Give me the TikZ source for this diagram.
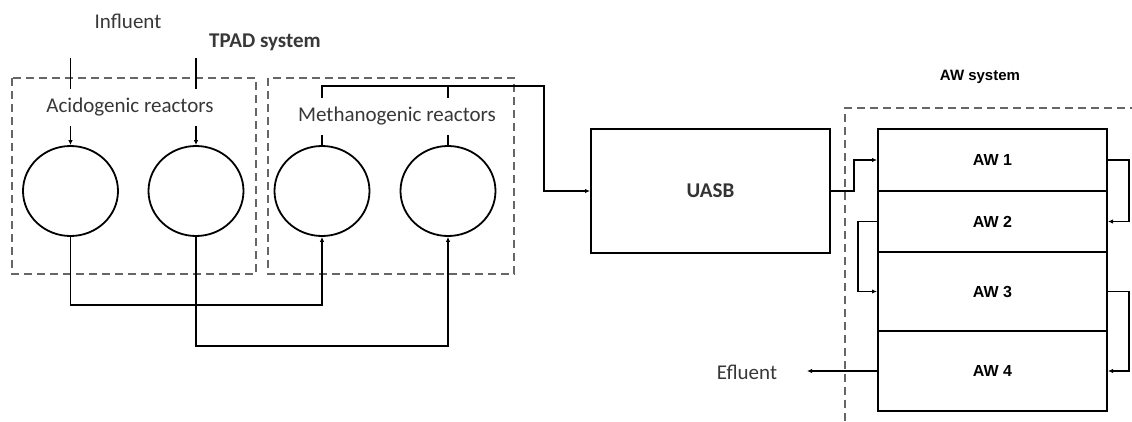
\documentclass[tikz,border=0pt]{standalone}
\usepackage{fontspec}
\setmainfont{Carlito}
\newfontfamily\arialf{Liberation Sans}
\usetikzlibrary{arrows.meta,shapes.geometric}
\begin{document}
\begin{tikzpicture}[x=1pt,y=-1pt,
  reactor/.style={ellipse, draw, line width=1.8pt, minimum width=95pt, minimum height=90pt, inner sep=0pt},
  unit/.style={draw, line width=2pt, rectangle, inner sep=0pt},
  awbox/.style={unit, minimum width=229pt, text=black, font=\arialf\bfseries\fontsize{16}{19}\selectfont},
  conn/.style={line width=1.3pt},
  arr/.style={conn, -{Latex[length=5pt,width=4.5pt]}},
  zone/.style={draw=black!60, dash pattern=on 8pt off 5pt, line width=1.6pt},
  lbl/.style={text=black!78, font=\fontsize{21}{25}\selectfont, inner sep=1pt},
  cover/.style={lbl, fill=white, minimum height=37pt, inner xsep=2pt}
]
\fill[white] (0,0) rectangle (1132,421);
\useasboundingbox (0,0) rectangle (1132,421);

% dashed zones
\draw[zone] (12,78) rectangle (256,274);
\draw[zone] (268,78) rectangle (514,274);
\draw[zone] (845,421) -- (845,108) -- (1132,108);

% labels
\node[lbl] (influent) at (128,21) {Influent};
\node[lbl, font=\bfseries\fontsize{21}{25}\selectfont] (tpad) at (265,42) {TPAD system};
\node[text=black, font=\arialf\bfseries\fontsize{15}{18}\selectfont] (awsys) at (980,77) {AW system};

% reactors
\node[reactor] (c1) at (70.5,191) {};
\node[reactor] (c2) at (196,191) {};
\node[reactor] (c3) at (322,191) {};
\node[reactor] (c4) at (448,191) {};

% UASB and AW units
\node[unit, minimum width=239pt, minimum height=124pt, text=black!80, font=\bfseries\fontsize{21}{25}\selectfont] (uasb) at (710.5,191) {UASB};
\node[awbox, minimum height=62pt] (aw1) at (992.5,160) {AW 1};
\node[awbox, minimum height=61pt] (aw2) at (992.5,221.5) {AW 2};
\node[awbox, minimum height=79pt] (aw3) at (992.5,291.5) {AW 3};
\node[awbox, minimum height=80pt] (aw4) at (992.5,371) {AW 4};

% coordinates
\coordinate (in1) at (70.5,58);
\coordinate (in2) at (196,58);
\coordinate (j1) at (70.5,305);
\coordinate (j2) at (322,305);
\coordinate (k1) at (196,346);
\coordinate (k2) at (448,346);
\coordinate (m1) at (322,86);
\coordinate (m2) at (448,86);
\coordinate (m3) at (544,86);
\coordinate (m4) at (544,191);
\coordinate (u1) at (854,191);
\coordinate (u2) at (854,160);
\coordinate (r1) at (1129,160);
\coordinate (r2) at (1129,221.5);
\coordinate (l1) at (858,221.5);
\coordinate (l2) at (858,291.5);
\coordinate (r3) at (1129,291.5);
\coordinate (r4) at (1129,371);
\coordinate (effend) at (807,371);

% connectors
\draw[arr] (in1) -- (c1.north);
\draw[arr] (in2) -- (c2.north);
\draw[arr] (c1.south) -- (j1) -- (j2) -- (c3.south);
\draw[arr] (c2.south) -- (k1) -- (k2) -- (c4.south);
\draw[arr] (c3.north) -- (m1) -- (m3) -- (m4) -- (uasb.west);
\draw[conn] (c4.north) -- (m2);
\draw[arr] (uasb.east) -- (u1) -- (u2) -- (aw1.west);
\draw[arr] (aw1.east) -- (r1) -- (r2) -- (aw2.east);
\draw[arr] (aw2.west) -- (l1) -- (l2) -- (aw3.west);
\draw[arr] (aw3.east) -- (r3) -- (r4) -- (aw4.east);
\draw[arr] (aw4.west) -- (effend);

% group labels covering the feed lines
\node[cover] (acid) at (130,107.5) {Acidogenic reactors};
\node[cover] (meth) at (397,116.5) {Methanogenic reactors};
\node[lbl] (eff) at (747,372) {Efluent};
\end{tikzpicture}
\end{document}
